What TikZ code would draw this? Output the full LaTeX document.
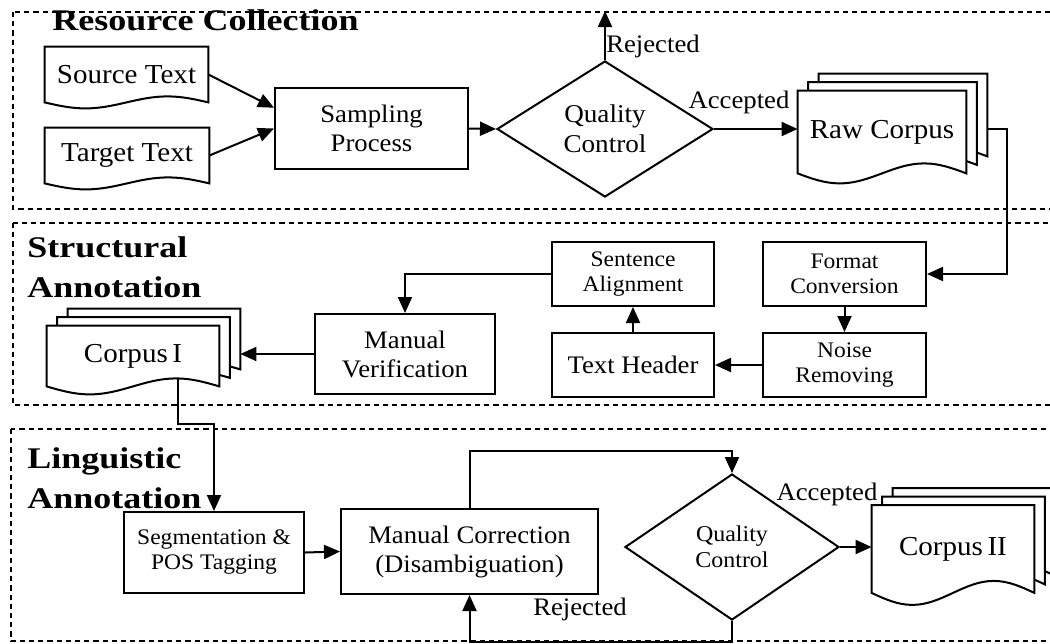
\documentclass[tikz,border=0pt]{standalone}
\usepackage{fontspec}
\setmainfont{Liberation Serif}[FakeStretch=1.06]
\newfontfamily\headfont{Liberation Serif}[FakeStretch=1.2]
\usetikzlibrary{arrows.meta,calc,shapes.geometric,backgrounds}

% stack of paper sheets behind a named node: node, back sheets, wave height
\newcommand{\docstack}[3]{%
  \begin{pgfonlayer}{background}
  \foreach \k in {#2,...,0}{
    \draw[sheet] ($(#1.south west)+(10.5*\k,-8.5*\k)$) -- ($(#1.north west)+(10.5*\k,-8.5*\k)$)
      -- ($(#1.north east)+(10.5*\k,-8.5*\k)$) -- ($(#1.south east)+(10.5*\k,-8.5*\k)$)
      sin ($(#1.south east)!.25!(#1.south west)+(10.5*\k,-8.5*\k-#3)$)
      cos ($(#1.south east)!.5!(#1.south west)+(10.5*\k,-8.5*\k)$)
      sin ($(#1.south east)!.75!(#1.south west)+(10.5*\k,-8.5*\k+#3)$)
      cos ($(#1.south west)+(10.5*\k,-8.5*\k)$) -- cycle;
  }
  \end{pgfonlayer}}

\begin{document}
\begin{tikzpicture}[x=0.5pt,y=-0.5pt,
  box/.style={draw,line width=1pt,inner sep=0pt,align=center,font=\fontsize{12.6}{14.5}\selectfont},
  small/.style={box,font=\fontsize{11.1}{12.5}\selectfont},
  doc/.style={inner sep=0pt,align=center,font=\fontsize{13.7}{16}\selectfont},
  check/.style={draw,diamond,line width=1pt,inner sep=0pt,align=center,font=\fontsize{12.8}{15}\selectfont},
  lbl/.style={inner sep=0pt,font=\fontsize{12.6}{14.5}\selectfont},
  head/.style={inner sep=0pt,align=left,font=\headfont\bfseries\fontsize{15}{20}\selectfont},
  zone/.style={dash pattern=on 2.6pt off 2pt,line width=0.75pt},
  sheet/.style={line width=1pt,fill=white},
  arr/.style={line width=1pt,-{Triangle[length=8pt,width=7pt]}}]
\useasboundingbox (0,0) rectangle (1050,643);
\clip (0,0) rectangle (1050,643);

% the three stages
\draw[zone] (13,12) rectangle (1080,209);
\draw[zone] (13,223) rectangle (1080,405);
\draw[zone] (11,429) rectangle (1080,641);
\node[head,anchor=base west] (stage1) at (52,30) {Resource Collection};
\node[head,anchor=north west] (stage2) at (27,236) {Structural\\Annotation};
\node[head,anchor=north west] (stage3) at (27,447) {Linguistic\\Annotation};

% resource collection
\node[doc,minimum width=81.5pt,minimum height=27.5pt] (src) at (126.5,74.5) {Source Text};
\node[doc,minimum width=82pt,minimum height=27.5pt] (tgt) at (127,155.5) {Target Text};
\node[box,minimum width=96.5pt,minimum height=40.5pt] (sampling) at (371.5,128.5) {Sampling\\Process};
\node[check,shape aspect=1.6,minimum width=108pt,minimum height=68pt] (qc1) at (605,129) {Quality\\Control};
\node[doc,minimum width=84pt,minimum height=41pt] (raw) at (882,132) {Raw Corpus};
\docstack{src}{0}{6}
\docstack{tgt}{0}{6}
\docstack{raw}{2}{10}
\draw[arr] (src.east) -- ($(sampling.north west)!.5!(sampling.west)$);
\draw[arr] (tgt.east) -- (sampling.west);
\draw[arr] (sampling.east) -- (qc1.west);
\draw[arr] (qc1.north) -- ++(0,-49);
\draw[arr] (qc1.east) -- (qc1.east -| raw.west);
\node[lbl] (rej1) at (653,46) {Rejected};
\node[lbl] (acc1) at (739,102) {Accepted};

% structural annotation
\node[small,minimum width=81.5pt,minimum height=32pt] (fc) at (844.5,274) {Format\\Conversion};
\node[small,minimum width=81.5pt,minimum height=32pt] (nr) at (844.5,365) {Noise\\Removing};
\node[box,minimum width=81pt,minimum height=32pt] (th) at (633,365) {Text Header};
\node[small,minimum width=81pt,minimum height=32pt] (sa) at (633,274) {Sentence\\Alignment};
\node[box,minimum width=90pt,minimum height=40pt] (mv) at (405,354) {Manual\\Verification};
\node[doc,minimum width=86pt,minimum height=30pt] (corpus1) at (133,356) {Corpus\,I};
\docstack{corpus1}{2}{8}
\draw[arr] ($(qc1.east -| raw.east)+(21,0)$) -- ++(20,0) |- (fc.east);
\draw[arr] (fc.south) -- (nr.north);
\draw[arr] (nr.west) -- (th.east);
\draw[arr] (th.north) -- (sa.south);
\draw[arr] (sa.west) -| (mv.north);
\draw[arr] (mv.west) -- ($(mv.west -| corpus1.east)+(21,0)$);

% linguistic annotation
\node[small,minimum width=90pt,minimum height=40.5pt] (seg) at (214,552.5) {Segmentation \&\\POS Tagging};
\node[box,minimum width=128.5pt,minimum height=42.5pt] (mc) at (469.5,551.5) {Manual Correction\\(Disambiguation)};
\node[check,shape aspect=1.47,minimum width=107pt,minimum height=73pt,font=\fontsize{11.3}{13}\selectfont] (qc2) at (732,547) {Quality\\Control};
\node[doc,minimum width=81pt,minimum height=43.5pt] (corpus2) at (953,549) {Corpus\,II};
\docstack{corpus2}{2}{12}
\draw[arr] ($(corpus1.south)+(45,-8)$) -- ++(0,46) -| (seg.north);
\draw[arr] (seg.east) -- (mc.west);
\draw[arr] (mc.north) -- ++(0,-57) -| (qc2.north);
\draw[arr] (qc2.south) -- ++(0,21) -| (mc.south);
\draw[arr] (qc2.east) -- (qc2.east -| corpus2.west);
\node[lbl] (rej2) at (580,609) {Rejected};
\node[lbl] (acc2) at (827,494) {Accepted};
\end{tikzpicture}
\end{document}
